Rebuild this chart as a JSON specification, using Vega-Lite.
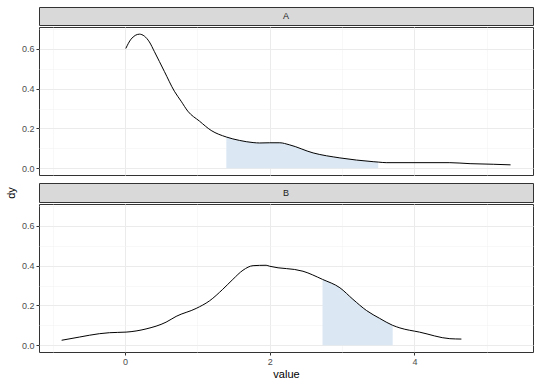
{
  "$schema": "https://vega.github.io/schema/vega-lite/v6.json",
  "padding": {"left": 5, "top": 6, "right": 7, "bottom": 2},
  "background": "white",
  "title": {"text": "dy", "orient": "left", "anchor": "middle", "fontSize": 11, "fontWeight": "normal", "color": "#000000", "offset": 4},
  "datasets": {
    "curve": [
      {"panel": "A", "value": 0.01, "dy": 0.602, "shaded": false},
      {"panel": "A", "value": 0.083, "dy": 0.649, "shaded": false},
      {"panel": "A", "value": 0.198, "dy": 0.674, "shaded": false},
      {"panel": "A", "value": 0.336, "dy": 0.635, "shaded": false},
      {"panel": "A", "value": 0.406, "dy": 0.586, "shaded": false},
      {"panel": "A", "value": 0.544, "dy": 0.486, "shaded": false},
      {"panel": "A", "value": 0.682, "dy": 0.387, "shaded": false},
      {"panel": "A", "value": 0.775, "dy": 0.337, "shaded": false},
      {"panel": "A", "value": 0.867, "dy": 0.287, "shaded": false},
      {"panel": "A", "value": 1.028, "dy": 0.237, "shaded": false},
      {"panel": "A", "value": 1.19, "dy": 0.19, "shaded": false},
      {"panel": "A", "value": 1.4, "dy": 0.157, "shaded": true},
      {"panel": "A", "value": 1.58, "dy": 0.14, "shaded": true},
      {"panel": "A", "value": 1.77, "dy": 0.129, "shaded": true},
      {"panel": "A", "value": 1.86, "dy": 0.127, "shaded": true},
      {"panel": "A", "value": 2.0, "dy": 0.128, "shaded": true},
      {"panel": "A", "value": 2.14, "dy": 0.128, "shaded": true},
      {"panel": "A", "value": 2.27, "dy": 0.118, "shaded": true},
      {"panel": "A", "value": 2.6, "dy": 0.077, "shaded": true},
      {"panel": "A", "value": 2.97, "dy": 0.052, "shaded": true},
      {"panel": "A", "value": 3.43, "dy": 0.033, "shaded": true},
      {"panel": "A", "value": 3.5, "dy": 0.031, "shaded": true},
      {"panel": "A", "value": 3.61, "dy": 0.028, "shaded": false},
      {"panel": "A", "value": 4.49, "dy": 0.028, "shaded": false},
      {"panel": "A", "value": 4.77, "dy": 0.023, "shaded": false},
      {"panel": "A", "value": 5.09, "dy": 0.02, "shaded": false},
      {"panel": "A", "value": 5.33, "dy": 0.017, "shaded": false},
      {"panel": "B", "value": -0.877, "dy": 0.025, "shaded": false},
      {"panel": "B", "value": -0.633, "dy": 0.041, "shaded": false},
      {"panel": "B", "value": -0.356, "dy": 0.058, "shaded": false},
      {"panel": "B", "value": -0.217, "dy": 0.063, "shaded": false},
      {"panel": "B", "value": 0.014, "dy": 0.066, "shaded": false},
      {"panel": "B", "value": 0.29, "dy": 0.082, "shaded": false},
      {"panel": "B", "value": 0.567, "dy": 0.116, "shaded": false},
      {"panel": "B", "value": 0.706, "dy": 0.145, "shaded": false},
      {"panel": "B", "value": 0.983, "dy": 0.185, "shaded": false},
      {"panel": "B", "value": 1.167, "dy": 0.223, "shaded": false},
      {"panel": "B", "value": 1.35, "dy": 0.281, "shaded": false},
      {"panel": "B", "value": 1.49, "dy": 0.331, "shaded": false},
      {"panel": "B", "value": 1.63, "dy": 0.377, "shaded": false},
      {"panel": "B", "value": 1.77, "dy": 0.4, "shaded": false},
      {"panel": "B", "value": 1.95, "dy": 0.402, "shaded": false},
      {"panel": "B", "value": 2.0, "dy": 0.397, "shaded": false},
      {"panel": "B", "value": 2.46, "dy": 0.372, "shaded": false},
      {"panel": "B", "value": 2.73, "dy": 0.331, "shaded": true},
      {"panel": "B", "value": 2.97, "dy": 0.289, "shaded": true},
      {"panel": "B", "value": 3.15, "dy": 0.231, "shaded": true},
      {"panel": "B", "value": 3.34, "dy": 0.174, "shaded": true},
      {"panel": "B", "value": 3.52, "dy": 0.135, "shaded": true},
      {"panel": "B", "value": 3.7, "dy": 0.1, "shaded": true},
      {"panel": "B", "value": 3.8, "dy": 0.087, "shaded": false},
      {"panel": "B", "value": 4.07, "dy": 0.066, "shaded": false},
      {"panel": "B", "value": 4.49, "dy": 0.033, "shaded": false},
      {"panel": "B", "value": 4.65, "dy": 0.031, "shaded": false}
    ]
  },
  "spacing": 6,
  "vconcat": [
    {
      "spacing": 0,
      "vconcat": [
        {
          "width": 494, "height": 18,
          "view": {"fill": "#d9d9d9", "stroke": "#333333"},
          "data": {"values": [{"label": "A"}]},
          "mark": {"type": "text", "fontSize": 9, "color": "#1a1a1a"},
          "encoding": {"text": {"field": "label"}}
        },
        {
          "width": 494, "height": 148,
          "view": {"fill": "white", "stroke": "#333333"},
          "data": {"name": "curve"},
          "transform": [{"filter": "datum.panel == 'A'"}],
          "encoding": {
            "x": {"field": "value", "type": "quantitative",
              "scale": {"domain": [-1.19, 5.64], "nice": false, "zero": false},
              "axis": {"values": [-1, 0, 1, 2, 3, 4, 5], "labels": false, "ticks": false, "title": null,
                "gridColor": {"condition": {"test": "datum.value % 2 == 0", "value": "#ebebeb"}, "value": "#f3f3f3"},
                "gridWidth": {"condition": {"test": "datum.value % 2 == 0", "value": 1}, "value": 0.6}}},
            "y": {"field": "dy", "type": "quantitative",
              "scale": {"domain": [-0.034, 0.71], "nice": false, "zero": false},
              "axis": {"values": [0, 0.1, 0.2, 0.3, 0.4, 0.5, 0.6, 0.7], "format": ".1f", "title": null,
                "labelExpr": "round(datum.value * 10) % 2 == 0 ? datum.label : ''",
                "labelFontSize": {"condition": {"test": "round(datum.value * 10) % 2 == 0", "value": 9}, "value": 0},
                "tickSize": {"condition": {"test": "round(datum.value * 10) % 2 == 0", "value": 3}, "value": 0},
                "gridColor": {"condition": {"test": "round(datum.value * 10) % 2 == 0", "value": "#ebebeb"}, "value": "#f3f3f3"},
                "gridWidth": {"condition": {"test": "round(datum.value * 10) % 2 == 0", "value": 1}, "value": 0.6}}}
          },
          "layer": [
            {"transform": [{"filter": "datum.shaded"}], "mark": {"type": "area", "color": "#dbe7f3", "interpolate": "monotone"}},
            {"mark": {"type": "line", "color": "#000000", "strokeWidth": 1, "interpolate": "monotone"}}
          ]
        }
      ]
    },
    {
      "spacing": 0,
      "vconcat": [
        {
          "width": 494, "height": 19,
          "view": {"fill": "#d9d9d9", "stroke": "#333333"},
          "data": {"values": [{"label": "B"}]},
          "mark": {"type": "text", "fontSize": 9, "color": "#1a1a1a"},
          "encoding": {"text": {"field": "label"}}
        },
        {
          "width": 494, "height": 148,
          "view": {"fill": "white", "stroke": "#333333"},
          "data": {"name": "curve"},
          "transform": [{"filter": "datum.panel == 'B'"}],
          "encoding": {
            "x": {"field": "value", "type": "quantitative",
              "scale": {"domain": [-1.19, 5.64], "nice": false, "zero": false},
              "axis": {"values": [-1, 0, 1, 2, 3, 4, 5], "title": "value",
                "labelExpr": "datum.value % 2 == 0 ? datum.label : ''",
                "labelFontSize": {"condition": {"test": "datum.value % 2 == 0", "value": 9}, "value": 0},
                "tickSize": {"condition": {"test": "datum.value % 2 == 0", "value": 3}, "value": 0},
                "gridColor": {"condition": {"test": "datum.value % 2 == 0", "value": "#ebebeb"}, "value": "#f3f3f3"},
                "gridWidth": {"condition": {"test": "datum.value % 2 == 0", "value": 1}, "value": 0.6}}},
            "y": {"field": "dy", "type": "quantitative",
              "scale": {"domain": [-0.034, 0.71], "nice": false, "zero": false},
              "axis": {"values": [0, 0.1, 0.2, 0.3, 0.4, 0.5, 0.6, 0.7], "format": ".1f", "title": null,
                "labelExpr": "round(datum.value * 10) % 2 == 0 ? datum.label : ''",
                "labelFontSize": {"condition": {"test": "round(datum.value * 10) % 2 == 0", "value": 9}, "value": 0},
                "tickSize": {"condition": {"test": "round(datum.value * 10) % 2 == 0", "value": 3}, "value": 0},
                "gridColor": {"condition": {"test": "round(datum.value * 10) % 2 == 0", "value": "#ebebeb"}, "value": "#f3f3f3"},
                "gridWidth": {"condition": {"test": "round(datum.value * 10) % 2 == 0", "value": 1}, "value": 0.6}}}
          },
          "layer": [
            {"transform": [{"filter": "datum.shaded"}], "mark": {"type": "area", "color": "#dbe7f3", "interpolate": "monotone"}},
            {"mark": {"type": "line", "color": "#000000", "strokeWidth": 1, "interpolate": "monotone"}}
          ]
        }
      ]
    }
  ],
  "config": {
    "font": "Liberation Sans",
    "axis": {
      "labelFontSize": 9, "labelColor": "#4d4d4d", "tickColor": "#333333", "tickSize": 3,
      "domain": false, "labelPadding": 2, "titleFontSize": 11, "titleFontWeight": "normal",
      "titleColor": "#000000", "titlePadding": 2
    }
  }
}
